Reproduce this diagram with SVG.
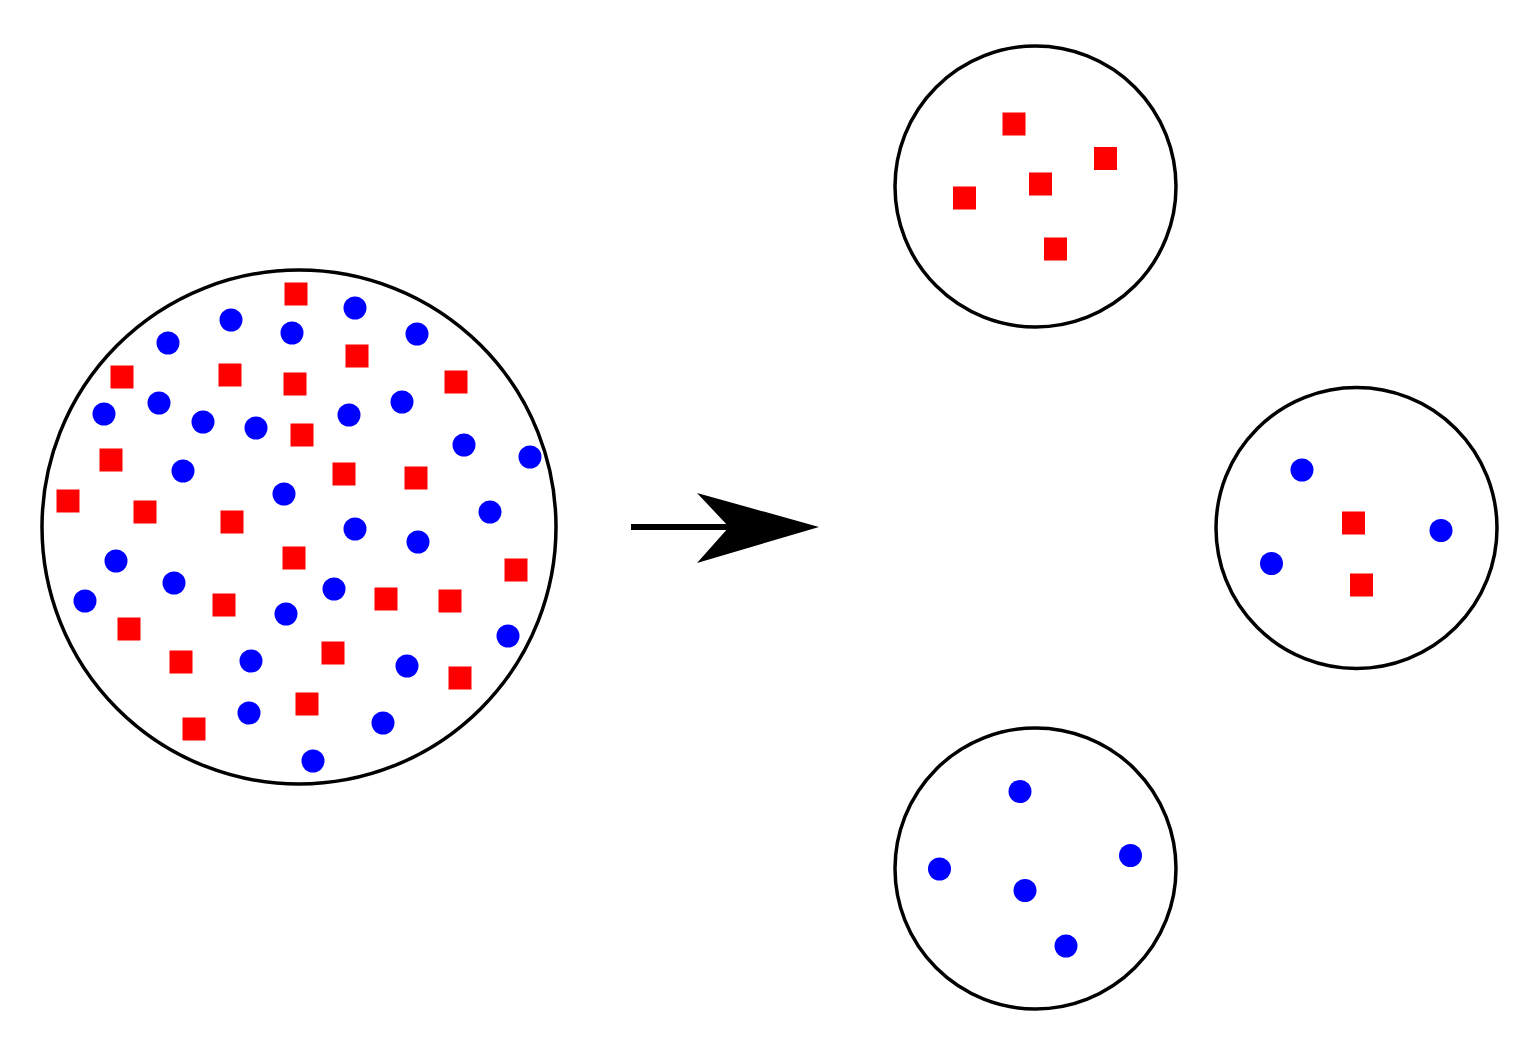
<svg xmlns="http://www.w3.org/2000/svg" width="1540" height="1054" viewBox="0 0 1540 1054">
<style>
.ring{fill:none;stroke:#000;stroke-width:3.5}
.sq{fill:#ff0000}
.dot{fill:#0000ff}
</style>
<defs>
<rect id="s" class="sq" x="-11.5" y="-11.5" width="23" height="23"/>
<circle id="d" class="dot" r="11.5"/>
</defs>
<rect width="1540" height="1054" fill="#fff"/>
<g id="mixture">
<circle class="ring" cx="299" cy="527" r="257"/>
<use href="#s" x="296" y="294"/><use href="#s" x="357" y="356"/><use href="#s" x="122" y="377"/><use href="#s" x="230" y="375"/>
<use href="#s" x="295" y="384"/><use href="#s" x="456" y="382"/><use href="#s" x="302" y="435"/><use href="#s" x="111" y="460"/>
<use href="#s" x="68" y="501"/><use href="#s" x="344" y="474"/><use href="#s" x="416" y="478"/><use href="#s" x="145" y="512"/>
<use href="#s" x="232" y="522"/><use href="#s" x="294" y="558"/><use href="#s" x="516" y="570"/><use href="#s" x="224" y="605"/>
<use href="#s" x="386" y="599"/><use href="#s" x="450" y="601"/><use href="#s" x="129" y="629"/><use href="#s" x="181" y="662"/>
<use href="#s" x="333" y="653"/><use href="#s" x="460" y="678"/><use href="#s" x="194" y="729"/><use href="#s" x="307" y="704"/>
<use href="#d" x="231" y="320"/><use href="#d" x="168" y="343"/><use href="#d" x="292" y="333"/><use href="#d" x="355" y="308"/>
<use href="#d" x="417" y="334"/><use href="#d" x="104" y="414"/><use href="#d" x="159" y="403"/><use href="#d" x="203" y="422"/>
<use href="#d" x="256" y="428"/><use href="#d" x="349" y="415"/><use href="#d" x="402" y="402"/><use href="#d" x="464" y="445"/>
<use href="#d" x="530" y="457"/><use href="#d" x="183" y="471"/><use href="#d" x="284" y="494"/><use href="#d" x="355" y="529"/>
<use href="#d" x="418" y="542"/><use href="#d" x="490" y="512"/><use href="#d" x="116" y="561"/><use href="#d" x="174" y="583"/>
<use href="#d" x="85" y="601"/><use href="#d" x="286" y="614"/><use href="#d" x="334" y="589"/><use href="#d" x="251" y="661"/>
<use href="#d" x="249" y="713"/><use href="#d" x="407" y="666"/><use href="#d" x="508" y="636"/><use href="#d" x="383" y="723"/>
<use href="#d" x="313" y="761"/>
</g>
<g id="connectors">
<line x1="631" y1="527" x2="732" y2="527" stroke="#000" stroke-width="6"/>
<polygon points="819,527 697,493 729,527 697,563" fill="#000"/>
</g>
<g id="red-group">
<circle class="ring" cx="1035.5" cy="186.5" r="140.5"/>
<use href="#s" x="1014" y="124"/><use href="#s" x="1105.5" y="158.5"/><use href="#s" x="1040.5" y="184"/>
<use href="#s" x="964.5" y="198"/><use href="#s" x="1055.5" y="249"/>
</g>
<g id="mixed-group">
<circle class="ring" cx="1356.5" cy="528" r="140.5"/>
<use href="#d" x="1302" y="470"/><use href="#d" x="1441" y="530.5"/><use href="#d" x="1271.5" y="563.5"/>
<use href="#s" x="1353.5" y="523"/><use href="#s" x="1361.5" y="585"/>
</g>
<g id="blue-group">
<circle class="ring" cx="1035.5" cy="868.5" r="140.5"/>
<use href="#d" x="1020" y="791.5"/><use href="#d" x="1130.5" y="855.5"/><use href="#d" x="939.5" y="869"/>
<use href="#d" x="1025" y="890.5"/><use href="#d" x="1066" y="946"/>
</g>
</svg>
